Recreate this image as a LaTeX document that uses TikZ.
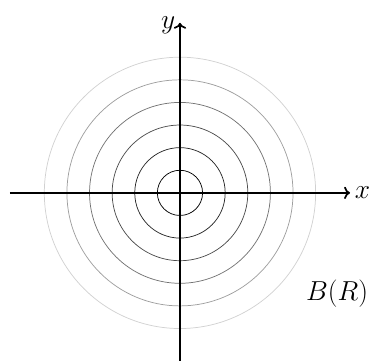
\documentclass[tikz,border=0pt]{standalone}
\usepackage{amsmath}
\usetikzlibrary{arrows.meta}
\tikzset{
  axisline/.style={line width=1.3pt,->},
  ringline/.style={line width=0.55pt},
  biglabel/.style={font=\fontsize{22}{26}\selectfont},
}
\begin{document}
\begin{tikzpicture}[x=0.6cm,y=0.6cm]
    \useasboundingbox (-7.96,-7.40) rectangle (8.67,8.53);
    \foreach \r/\c in {1/100,2/85,3/70,4/55,5/38,6/18}
      \draw[ringline,black!\c] (0,0) circle (\r);
    \draw[axisline] (-7.52,0) -- (7.52,0) node[right,inner sep=3pt,biglabel] (xlab) {$x$};
    \draw[axisline] (0,-7.45) -- (0,7.52) node[left,inner sep=3pt,yshift=-2pt,biglabel] (ylab) {$y$};
    \node[biglabel] (ball) at (6.95,-4.44) {$B(R)$};
  \end{tikzpicture}
\end{document}
